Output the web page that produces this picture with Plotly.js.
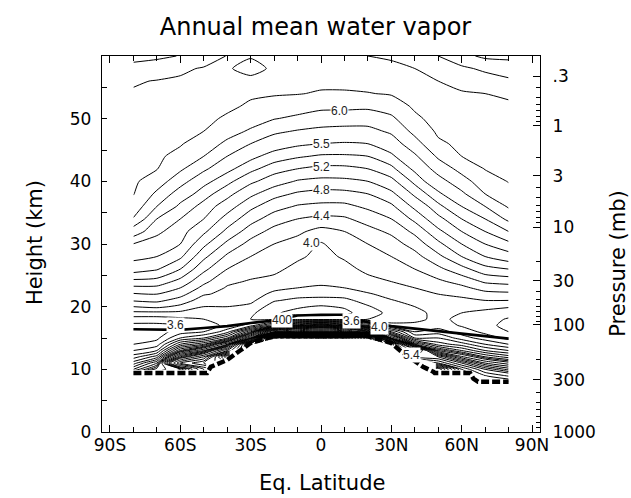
<!DOCTYPE html>
<html>
<head>
<meta charset="utf-8">
<script src="https://cdn.plot.ly/plotly-3.0.1.min.js"></script>
<style>html,body{margin:0;padding:0;background:#fff}#chart{width:631px;height:498px}</style>
</head>
<body>
<div id="chart"></div>
<script>
// ---- data ----
const latitudes = [-80,-70,-60,-50,-40,-30,-20,-10,0,10,20,30,40,50,60,70,80];
const heights = [8,9,10,11,12,13,14,15,16,17,18,19,20,21,22,23,24,26,28,30,32,34,36,38,40,42,44,46,48,50,52,54,56,58,60];
// water vapor (ppmv), one row per height, one value per latitude
const waterVapor = [
 [null,null,null,null,null,null,null,null,null,null,null,null,null,null,null,null,8.5],
 [null,null,null,null,null,null,null,null,null,null,null,null,null,null,null,8.0,7.4],
 [4.8,5.6,6.0,8.0,null,null,null,null,null,null,null,null,null,12,8.5,7.0,6.4],
 [4.3,5.0,8.5,9.5,null,null,null,null,null,null,null,null,null,8.5,7.0,6.0,5.6],
 [3.9,4.3,6.5,8.0,12,null,null,null,null,null,null,null,7.5,7.0,5.8,5.2,4.9],
 [3.6,3.8,5.2,6.0,8.5,null,null,null,null,null,null,null,8.5,5.5,5.0,4.6,4.4],
 [3.4,3.5,4.4,4.8,6.0,12,null,null,null,null,null,11,5.4,4.7,4.5,4.2,4.0],
 [3.3,3.35,3.8,4.0,4.6,6.5,18,20,22,20,16,6.0,4.4,4.4,4.1,3.9,3.75],
 [3.3,3.3,3.5,3.6,3.9,5.0,7.5,8.5,9,8.5,7.0,4.8,4.0,4.1,3.9,3.75,3.6],
 [3.35,3.35,3.4,3.5,3.65,3.9,4.6,5.2,5.6,5.2,4.6,3.9,3.85,3.9,3.78,3.65,3.55],
 [3.5,3.5,3.55,3.6,3.7,3.6,3.55,3.5,3.5,3.5,3.6,3.65,3.75,3.85,3.75,3.68,3.58],
 [3.75,3.75,3.75,3.7,3.75,3.65,3.42,3.35,3.32,3.35,3.5,3.66,3.75,3.85,3.8,3.75,3.68],
 [4.0,4.05,3.95,3.8,3.8,3.75,3.5,3.42,3.38,3.42,3.58,3.72,3.8,3.9,3.88,3.85,3.82],
 [4.22,4.25,4.12,3.9,3.9,3.85,3.62,3.55,3.52,3.55,3.68,3.79,3.86,3.95,3.95,4.0,4.0],
 [4.38,4.4,4.27,4.02,3.95,3.9,3.75,3.68,3.68,3.68,3.78,3.86,3.93,4.0,4.05,4.13,4.15],
 [4.55,4.55,4.4,4.14,3.98,3.95,3.85,3.8,3.78,3.8,3.87,3.93,4.0,4.08,4.15,4.28,4.31],
 [4.74,4.72,4.53,4.25,4.04,3.98,3.95,3.88,3.83,3.88,3.95,4.0,4.07,4.16,4.27,4.43,4.47],
 [5.10,5.02,4.8,4.45,4.2,4.09,4.04,3.95,3.9,3.95,4.04,4.1,4.2,4.35,4.53,4.73,4.8],
 [5.25,5.2,5.04,4.65,4.36,4.2,4.12,4.03,3.95,4.02,4.12,4.2,4.33,4.55,4.8,5.0,5.13],
 [5.345,5.29,5.2,4.85,4.55,4.33,4.2,4.125,3.98,4.11,4.2,4.31,4.48,4.75,5.0,5.2,5.31],
 [5.6,5.38,5.275,5.04,4.75,4.5,4.33,4.24,4.13,4.2,4.33,4.44,4.65,4.95,5.2,5.35,5.5],
 [5.98,5.5,5.35,5.2,4.92,4.68,4.5,4.4,4.35,4.37,4.48,4.6,4.85,5.15,5.35,5.5,5.81],
 [6.16,5.75,5.45,5.3,5.1,4.85,4.68,4.58,4.55,4.55,4.64,4.76,5.05,5.31,5.5,5.75,6.03],
 [6.26,5.95,5.625,5.41,5.26,5.05,4.87,4.77,4.73,4.74,4.8,4.95,5.24,5.46,5.7,6.0,6.17],
 [6.29,6.125,5.85,5.56,5.39,5.24,5.1,4.98,4.94,4.95,5.0,5.15,5.39,5.65,5.9,6.14,6.26],
 [6.32,6.26,6.04,5.80,5.55,5.39,5.275,5.2,5.16,5.16,5.2,5.31,5.54,5.85,6.08,6.26,6.30],
 [6.36,6.29,6.18,6.0,5.75,5.55,5.425,5.37,5.33,5.33,5.35,5.46,5.71,6.04,6.25,6.30,6.33],
 [6.38,6.32,6.27,6.125,5.95,5.75,5.6,5.53,5.5,5.48,5.5,5.625,5.9,6.21,6.30,6.34,6.37],
 [6.40,6.35,6.29,6.25,6.09,5.97,5.80,5.73,5.69,5.67,5.68,5.79,6.07,6.29,6.34,6.38,6.40],
 [6.42,6.39,6.33,6.30,6.22,6.10,6.01,5.95,5.88,5.87,5.86,5.95,6.2,6.34,6.39,6.42,6.44],
 [6.45,6.42,6.37,6.34,6.29,6.22,6.16,6.11,6.06,6.06,6.05,6.12,6.29,6.39,6.43,6.46,6.47],
 [6.48,6.46,6.41,6.39,6.34,6.28,6.27,6.26,6.23,6.23,6.24,6.27,6.36,6.45,6.48,6.5,6.53],
 [6.52,6.49,6.47,6.44,6.39,6.34,6.31,6.30,6.30,6.30,6.33,6.35,6.43,6.5,6.57,6.63,6.70],
 [6.67,6.62,6.54,6.48,6.44,6.7,6.40,6.36,6.36,6.37,6.41,6.43,6.5,6.625,6.70,6.80,6.89],
 [6.83,6.80,6.74,6.64,6.49,6.45,6.44,6.42,6.43,6.45,6.5,6.54,6.67,6.75,6.93,7.05,7.05]
];
// lower data boundary (thick dashed line)
const boundaryLat = [-80,-48.6,-47,-40,-34.5,-30,-20,-10,0,10,20,30,33.7,39.3,43.5,48,48.5,63.6,65,67,80];
const boundaryHeight = [9.4,9.4,10.4,11.5,13,14.2,15.3,15.5,15.5,15.5,15.3,14.2,13,11.5,10.4,9.6,9.4,9.4,8.5,8.0,8.0];
// 400 K surface (thick solid line)
const thetaLat = [-80,-70,-60,-50,-40,-30,-20,-15,-10,0,9,15,20,30,40,50,60,70,80];
const thetaHeight = [16.4,16.4,16.3,16.6,16.9,17.4,17.8,18.2,18.6,18.7,18.7,18.0,17.5,16.9,16.5,16.2,15.8,15.3,14.9];
// contour labels
const labelText = ['6.0','5.5','5.2','4.8','4.4','4.0','3.6','400','3.6','4.0','5.4'];
const labelLat = [7.7,0.3,0,0,0.3,-4,-62,-16.6,13.2,25,38.8];
const labelHeight = [51.3,46,42.3,38.6,34.4,30.1,17.1,17.9,17.7,16.7,12.3];
// axes
const latTickVals = [-90,-60,-30,0,30,60,90];
const latTickText = ['90S','60S','30S','0','30N','60N','90N'];
const heightTickVals = [0,10,20,30,40,50];
const pressureValues = [1000,300,100,30,10,3,1,0.3];
const pressureLabels = ['1000','300','100','30','10','3','1','.3'];
const pressureHeights = [0,8.3,17.1,24.1,32.7,40.9,48.9,56.8];
const pressureMinor = [900,800,700,600,500,400,200,90,80,70,60,50,40,20,9,8,7,6,5,4,2,0.9,0.8,0.7,0.6,0.5,0.4];

function heightOfPressure(p){
  for(let i=0;i<pressureValues.length-1;i++){
    const a=pressureValues[i], b=pressureValues[i+1];
    if(p<=a && p>=b){
      const t=(Math.log(a)-Math.log(p))/(Math.log(a)-Math.log(b));
      return pressureHeights[i]+t*(pressureHeights[i+1]-pressureHeights[i]);
    }
  }
  return null;
}
const minorHeights = pressureMinor.map(heightOfPressure);

const lowIdx = heights.map((h,i)=>h<=20?i:-1).filter(i=>i>=0);
const lowHeights = lowIdx.map(i=>heights[i]);
const lowVapor = lowIdx.map(i=>waterVapor[i]);

const FONT = 'DejaVu Sans, Liberation Sans, sans-serif';
function contourTrace(x,y,z,start,end,size){
  return {type:'contour', x:x, y:y, z:z, autocontour:false, connectgaps:false,
    contours:{coloring:'none', start:start, end:end, size:size, showlabels:false},
    line:{color:'black', width:1, smoothing:0.6}, showscale:false, hoverinfo:'skip'};
}
const traces = [
  contourTrace(latitudes, heights, waterVapor, 3.4, 5.21, 0.2),
  contourTrace(latitudes, heights, waterVapor, 5.35, 5.35, 1),
  contourTrace(latitudes, heights, waterVapor, 5.5, 7.01, 0.25),
  contourTrace(latitudes, lowHeights, lowVapor, 7.5, 60, 0.5),
  {type:'scatter', mode:'lines', x:thetaLat, y:thetaHeight, line:{color:'black', width:2.6}, hoverinfo:'skip', showlegend:false},
  {type:'scatter', mode:'lines', x:boundaryLat, y:boundaryHeight, line:{color:'black', width:4.5, dash:'8px,3px'}, hoverinfo:'skip', showlegend:false},
  {type:'scatter', mode:'lines', x:[null], y:[null], yaxis:'y2', hoverinfo:'skip', showlegend:false}
];

const annotations = labelText.map((t,i)=>({x:labelLat[i], y:labelHeight[i], xref:'x', yref:'y', text:t, showarrow:false,
  font:{family:'Liberation Sans, Arial, sans-serif', size:12, color:'#222'}, bgcolor:'white', borderpad:0}));
annotations.push(
  {xref:'paper', yref:'paper', x:-0.153, y:0.505, xanchor:'center', yanchor:'middle', text:'Height (km)', textangle:-90, showarrow:false, font:{family:FONT, size:21, color:'black'}},
  {xref:'paper', yref:'paper', x:1.178, y:0.45, xanchor:'center', yanchor:'middle', text:'Pressure (mb)', textangle:-90, showarrow:false, font:{family:FONT, size:21, color:'black'}},
  {xref:'paper', yref:'paper', x:0.502, y:-0.136, xanchor:'center', yanchor:'middle', text:'Eq. Latitude', showarrow:false, font:{family:FONT, size:21, color:'black'}}
);

const axisCommon = {showgrid:false, zeroline:false, showline:true, linecolor:'black', linewidth:1.2,
  ticks:'inside', tickcolor:'black', tickfont:{family:FONT, size:17, color:'black'}};

const layout = {
  width:631, height:498,
  margin:{l:102, r:91, t:56, b:66},
  paper_bgcolor:'white', plot_bgcolor:'white', showlegend:false,
  title:{text:'Annual mean water vapor', x:0.5, xref:'container', y:0.946, yref:'container', yanchor:'middle', xanchor:'center',
         font:{family:FONT, size:24, color:'black'}},
  xaxis:Object.assign({}, axisCommon, {range:[-93.4,93.4], tickmode:'array', tickvals:latTickVals, ticktext:latTickText,
         ticklen:7, mirror:'ticks', ticklabelstandoff:-3,
         minor:{tickmode:'linear', tick0:0, dtick:10, ticks:'inside', ticklen:5, tickcolor:'black'}}),
  yaxis:Object.assign({}, axisCommon, {range:[0,60], tickmode:'array', tickvals:heightTickVals, ticklen:5, ticklabelstandoff:6,
         minor:{tickmode:'linear', tick0:0, dtick:5, ticks:'inside', ticklen:5, tickcolor:'black'}}),
  yaxis2:Object.assign({}, axisCommon, {overlaying:'y', side:'right', range:[0,60], tickmode:'array', tickvals:pressureHeights,
         ticktext:pressureLabels, ticklen:7, ticklabelstandoff:8,
         minor:{tickmode:'array', tickvals:minorHeights, ticks:'inside', ticklen:4, tickcolor:'black'}}),
  annotations:annotations
};
Plotly.newPlot('chart', traces, layout, {displayModeBar:false, staticPlot:true});
</script>
</body>
</html>
